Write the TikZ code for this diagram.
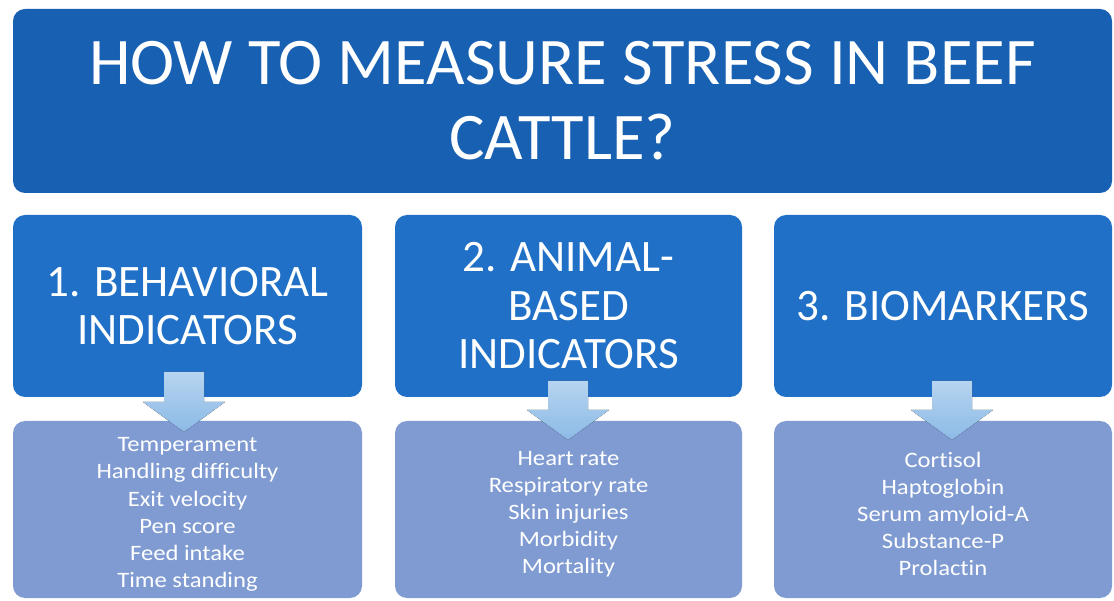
\documentclass[tikz,border=0pt]{standalone}
\usepackage{fontspec}
\setmainfont{Carlito}[Ligatures=NoCommon]
\newfontfamily\listefont{Carlito}[Ligatures=NoCommon, FakeStretch=1.12]
\usetikzlibrary{positioning}
\definecolor{bleutitre}{RGB}{24,96,178}
\definecolor{bleurubrique}{RGB}{31,112,198}
\definecolor{bleuliste}{RGB}{127,155,210}
\definecolor{bleuflechehaut}{RGB}{182,212,240}
\definecolor{bleuflechebas}{RGB}{140,186,230}
\begin{document}
\begin{tikzpicture}[x=1pt, y=-1pt]
				\tikzset{titre/.style={rectangle, rounded corners=12pt, fill=bleutitre, text=white, align=center, inner sep=0pt, font=\fontsize{66.6}{75}\selectfont},
					rubrique/.style={rectangle, rounded corners=12pt, fill=bleurubrique, text=white, align=center, inner sep=0pt, minimum height=182pt, font=\fontsize{45}{48.5}\selectfont},
					liste/.style={rectangle, rounded corners=12pt, fill=bleuliste, text=white, align=center, inner sep=0pt, minimum height=177pt, font=\listefont\fontsize{22}{27.1}\selectfont},
					fleche/.style={top color=bleuflechehaut, bottom color=bleuflechebas, draw=none}};
				\useasboundingbox (0,0) rectangle (1114,601);

				\node[titre, minimum width=1099pt, minimum height=184pt] (titre) at (562.5,101) {HOW TO MEASURE STRESS IN BEEF\\CATTLE?};

				\node[rubrique, minimum width=349pt] (r1) at (187.5,306) {1. BEHAVIORAL\\INDICATORS};
				\node[rubrique, minimum width=347pt] (r2) at (568.5,306) {2. ANIMAL-\\BASED\\INDICATORS};
				\node[rubrique, minimum width=338pt] (r3) at (943,306) {3. BIOMARKERS};

				\node[liste, minimum width=349pt] (l1) at (187.5,509.5) {\rule{0pt}{24pt}Temperament\\Handling difficulty\\Exit velocity\\Pen score\\Feed intake\\Time standing};
				\node[liste, minimum width=347pt] (l2) at (568.5,509.5) {\rule{0pt}{24pt}Heart rate\\Respiratory rate\\Skin injuries\\Morbidity\\Mortality};
				\node[liste, minimum width=338pt] (l3) at (943,509.5) {\rule{0pt}{24pt}Cortisol\\Haptoglobin\\Serum amyloid-A\\Substance-P\\Prolactin};

				% fleches
				\fill[fleche] (164,372) -- (204,372) -- (204,402) -- (225,402) -- (184,432) -- (143,402) -- (164,402) -- cycle;
				\fill[fleche] (548,381) -- (588,381) -- (588,410) -- (609,410) -- (568,440) -- (527,410) -- (548,410) -- cycle;
				\fill[fleche] (932,381) -- (972,381) -- (972,410) -- (993,410) -- (952,440) -- (911,410) -- (932,410) -- cycle;
			\end{tikzpicture}
\end{document}
